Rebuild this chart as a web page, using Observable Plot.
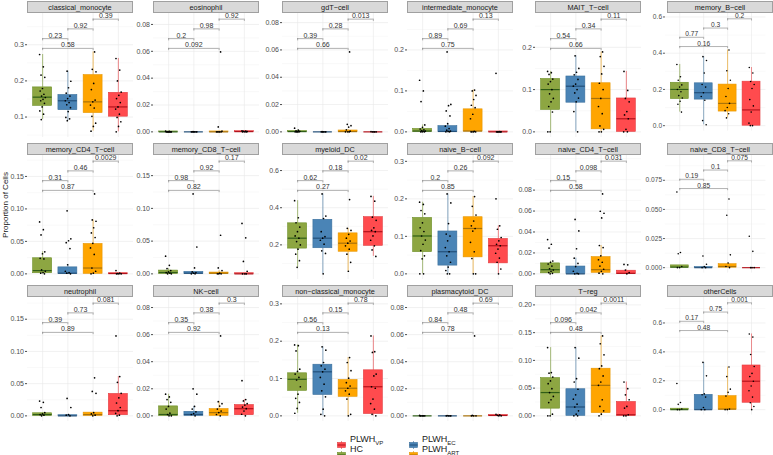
<!DOCTYPE html>
<html><head><meta charset="utf-8">
<script src="https://cdn.jsdelivr.net/npm/d3@7"></script>
<script src="https://cdn.jsdelivr.net/npm/@observablehq/plot@0.6"></script>
<style>
body{margin:0;background:#fff;font-family:"Liberation Sans",Arial,sans-serif;}
#root{position:relative;width:773px;height:455px;overflow:hidden;background:#fff;}
.strip{position:absolute;background:#d9d9d9;border:0.6px solid #a0a0a0;box-sizing:border-box;font-size:7.3px;color:#1a1a1a;text-align:center;z-index:3;white-space:nowrap;}
.panel{position:absolute;z-index:1;}
.ylab{position:absolute;left:5px;top:205px;transform:translate(-50%,-50%) rotate(-90deg);font-size:8px;color:#1a1a1a;white-space:nowrap;}
.leg{position:absolute;font-size:9px;color:#1a1a1a;white-space:nowrap;line-height:9px;}
.leg sub{font-size:6px;vertical-align:-3px;}
.key{position:absolute;}
</style>
</head><body><div id="root"></div>
<script>
const cells = ["classical_monocyte","eosinophil","gdT\u2212cell","intermediate_monocyte","MAIT_T\u2212cell","memory_B\u2212cell",
"memory_CD4_T\u2212cell","memory_CD8_T\u2212cell","myeloid_DC","naive_B\u2212cell","naive_CD4_T\u2212cell","naive_CD8_T\u2212cell",
"neutrophil","NK\u2212cell","non\u2212classical_monocyte","plasmacytoid_DC","T\u2212reg","otherCells"];
const groups = ["HC","PLWH_EC","PLWH_ART","PLWH_VP"];
const pHC_EC  = ["0.23","0.2","0.39","0.89","0.54","0.77","0.31","0.98","0.62","0.2","0.15","0.19","0.39","0.35","0.56","0.84","0.096","0.17"];
const pEC_ART = ["0.92","0.98","0.28","0.69","0.34","0.3","0.46","0.92","0.18","0.26","0.098","0.1","0.73","0.38","0.15","0.48","0.042","0.75"];
const pART_VP = ["0.39","0.92","0.013","0.13","0.11","0.2","0.0029","0.17","0.02","0.092","0.031","0.075","0.081","0.3","0.78","0.69","0.0011","0.001"];
const pHC_ART = ["0.58","0.092","0.66","0.75","0.66","0.16","0.87","0.82","0.27","0.85","0.58","0.85","0.89","0.92","0.13","0.78","0.48","0.48"];

// box stats per cell: [lower whisker, q1, median, q3, upper whisker]
const boxHC = [[0.093,0.131,0.155,0.182,0.273],[0,0,0,0.0003,0.0005],[0,0,0.0002,0.0006,0.0012],[0,0,0.002,0.007,0.017],[0,0.052,0.1,0.125,0.143],[0.075,0.147,0.2,0.237,0.338],
[0,0.001,0.005,0.024,0.034],[0,0,0.002,0.005,0.008],[0.079,0.18,0.236,0.316,0.438],[0,0.058,0.101,0.149,0.191],[0,0.0005,0.004,0.01,0.012],[0,0,0.0005,0.002,0.002],
[0,0,0.002,0.004,0.005],[0,0,0.001,0.007,0.016],[0.007,0.067,0.098,0.114,0.19],[0,0,0,0,0.0003],[0,0.013,0.042,0.068,0.123],[0,0,0,0.007,0.007]];
const boxEC = [[0.09,0.119,0.145,0.161,0.227],[0,0,0,0,0.0002],[0,0,0,0,0.0002],[0,0,0.001,0.014,0.02],[0,0.069,0.108,0.131,0.18],[0.005,0.144,0.182,0.234,0.381],
[0,0,0.001,0.01,0.014],[0,0,0.001,0.003,0.003],[0.044,0.182,0.236,0.335,0.474],[0,0.022,0.059,0.113,0.213],[0,0,0,0.007,0.015],[0,0,0,0.0005,0.001],
[0,0,0,0.001,0.002],[0,0,0.001,0.003,0.007],[0,0.056,0.118,0.137,0.185],[0,0,0,0,0],[0,0,0.016,0.048,0.123],[0,0,0,0.103,0.327]];
const boxART = [[0.061,0.111,0.142,0.216,0.28],[0,0,0,0.0003,0.0005],[0,0,0.0002,0.001,0.0015],[0,0.001,0.002,0.055,0.102],[0,0.006,0.079,0.115,0.189],[0.043,0.078,0.123,0.227,0.418],
[0,0,0.009,0.046,0.083],[0,0,0.001,0.002,0.005],[0.058,0.163,0.209,0.262,0.289],[0,0.044,0.121,0.151,0.206],[0,0.001,0.004,0.016,0.027],[0,0,0.001,0.003,0.004],
[0,0,0.002,0.005,0.005],[0,0,0.0024,0.005,0.0105],[0,0.051,0.074,0.096,0.156],[0,0,0,0,0.0003],[0,0.005,0.055,0.085,0.144],[0,0,0.004,0.094,0.295]];
const boxVP = [[0.059,0.101,0.128,0.167,0.262],[0,0,0.0002,0.0005,0.0008],[0,0,0,0,0],[0,0,0,0.001,0.001],[0,0,0.031,0.079,0.143],[0,0,0.087,0.243,0.321],
[0,0,0.0005,0.001,0.001],[0,0,0,0.001,0.001],[0.138,0.195,0.271,0.349,0.461],[0,0.028,0.075,0.093,0.128],[0,0,0.0005,0.003,0.0037],[0,0,0,0,0],
[0,0.001,0.008,0.034,0.061],[0,0.0005,0.0053,0.008,0.012],[0,0.005,0.078,0.122,0.214],[0,0,0.0003,0.0006,0.0012],[0,0,0.002,0.025,0.061],[0,0.048,0.197,0.306,0.524]];

// individual samples per cell
const ptsHC = [
[0.273,0.239,0.216,0.210,0.179,0.172,0.163,0.158,0.154,0.149,0.145,0.138,0.128,0.117,0.108,0.093],
[0.0005,0.0003,0,0,0,0,0,0,0,0],
[0.0027,0.0012,0.0008,0.0004,0,0,0,0],
[0.126,0.1,0.074,0.017,0.011,0.007,0.005,0.003,0.002,0.001,0,0,0],
[0.143,0.14,0.136,0.125,0.119,0.113,0.1,0.09,0.079,0.071,0.06,0.047,0,0],
[0.338,0.27,0.251,0.225,0.213,0.2,0.187,0.166,0.153,0.135,0.118,0.075],
[0.08,0.068,0.06,0.034,0.031,0.024,0.023,0.006,0.004,0.002,0.001,0],
[0.027,0.013,0.008,0.005,0.003,0.002,0.001,0,0],
[0.438,0.346,0.319,0.296,0.271,0.248,0.236,0.218,0.2,0.177,0.15,0.115,0.079],
[0.191,0.185,0.169,0.16,0.136,0.123,0.113,0.101,0.09,0.079,0.062,0.048,0.04,0,0],
[0.0327,0.0283,0.0246,0.0123,0.011,0.0094,0.0074,0.0049,0.0037,0.0025,0.0012,0.0005,0],
[0.065,0.013,0.012,0.001,0,0],
[0.023,0.021,0.013,0.005,0.003,0.002,0.001,0],
[0.016,0.014,0.012,0.01,0.007,0.005,0.002,0.001,0,0],
[0.19,0.188,0.174,0.125,0.119,0.112,0.103,0.096,0.078,0.058,0.047,0.036,0.02,0.007],
[0.0003,0,0,0,0,0],
[0.123,0.078,0.077,0.07,0.063,0.058,0.049,0.042,0.035,0.029,0.024,0.003,0,0],
[0.181,0.05,0.037,0.005,0,0]];
const ptsEC = [
[0.227,0.199,0.181,0.166,0.158,0.151,0.145,0.140,0.134,0.126,0.115,0.099,0.095,0.090],
[0.0002,0,0,0,0,0,0],
[0.0002,0,0,0,0,0],
[0.195,0.067,0.064,0.051,0.039,0.02,0.014,0.008,0.004,0.002,0.001,0,0],
[0.18,0.15,0.141,0.135,0.124,0.113,0.108,0.1,0.092,0.08,0.071,0.048,0],
[0.381,0.36,0.291,0.227,0.213,0.182,0.161,0.14,0.028,0.005],
[0.097,0.054,0.051,0.048,0.039,0.014,0.004,0.002,0.001,0],
[0.122,0.041,0.009,0.003,0.002,0.001,0,0],
[0.474,0.355,0.342,0.271,0.244,0.236,0.225,0.204,0.168,0.154,0.044],
[0.213,0.189,0.134,0.106,0.101,0.088,0.07,0.059,0.048,0.031,0.018,0.009,0,0],
[0.052,0.041,0.024,0.015,0.01,0.007,0.0025,0.0005,0,0],
[0.01,0.003,0.001,0,0],
[0.027,0.013,0.002,0.001,0],
[0.02,0.016,0.007,0.005,0.003,0.0017,0.001,0],
[0.185,0.176,0.143,0.134,0.125,0.118,0.103,0.085,0.067,0.051,0.018,0.004,0],
[0.0002,0,0,0,0],
[0.123,0.104,0.067,0.061,0.048,0.038,0.03,0.021,0.016,0.009,0.003,0,0],
[0.327,0.234,0.109,0.103,0.087,0.015,0,0]];
const ptsART = [
[0.28,0.232,0.225,0.193,0.176,0.147,0.142,0.133,0.125,0.102,0.083,0.074,0.061],
[0.0595,0.0037,0.0005,0,0,0,0,0],
[0.0585,0.0055,0.0045,0.0035,0.0015,0.0005,0,0,0],
[0.102,0.1,0.089,0.079,0.065,0.059,0.043,0.032,0.001,0,0,0,0],
[0.189,0.178,0.155,0.137,0.115,0.1,0.079,0.06,0.043,0.014,0.006,0,0],
[0.418,0.303,0.251,0.205,0.161,0.123,0.1,0.083,0.066,0.043],
[0.123,0.083,0.081,0.071,0.063,0.056,0.047,0.04,0.03,0.009,0.004,0.001,0],
[0.059,0.009,0.005,0.001,0,0,0],
[0.444,0.289,0.278,0.257,0.236,0.221,0.209,0.195,0.177,0.15,0.106,0.058],
[0.206,0.18,0.157,0.141,0.128,0.121,0.114,0.084,0.059,0.041,0,0],
[0.0763,0.0598,0.0579,0.0534,0.0271,0.0251,0.0172,0.0135,0.0111,0.0074,0.0044,0.0025,0.0007,0],
[0.059,0.045,0.011,0.004,0.001,0],
[0.059,0.038,0.035,0.005,0.003,0.001,0],
[0.059,0.0105,0.009,0.0072,0.005,0.0036,0.0024,0.001,0],
[0.156,0.143,0.121,0.101,0.089,0.08,0.074,0.067,0.058,0.045,0.004,0],
[0.059,0.0003,0,0,0],
[0.144,0.13,0.11,0.09,0.085,0.072,0.061,0.055,0.029,0.017,0.009,0.003,0],
[0.295,0.229,0.142,0.12,0.094,0.004,0,0]];
const ptsVP = [
[0.262,0.23,0.2,0.169,0.16,0.151,0.14,0.128,0.122,0.108,0.099,0.087,0.074,0.059],
[0.0008,0.0006,0.0004,0.0002,0,0,0],
[0.0002,0,0,0,0],
[0.143,0.0005,0,0,0,0,0,0],
[0.143,0.098,0.079,0.071,0.048,0.04,0.031,0.006,0,0],
[0.321,0.291,0.244,0.227,0.205,0.144,0.109,0.075,0.014,0,0],
[0.005,0.001,0.0005,0,0,0],
[0.077,0.055,0.019,0.004,0,0,0],
[0.461,0.435,0.349,0.332,0.292,0.278,0.271,0.248,0.225,0.195,0.173,0.138],
[0.2,0.128,0.119,0.097,0.088,0.079,0.075,0.066,0.055,0.042,0.031,0.013,0],
[0.009,0.0086,0.0037,0.0012,0],
[0.027,0.014,0,0,0],
[0.124,0.061,0.052,0.035,0.028,0.02,0.013,0.008,0.004,0.001,0],
[0.026,0.012,0.011,0.009,0.008,0.0065,0.0053,0.0036,0.0012,0],
[0.214,0.172,0.17,0.112,0.107,0.078,0.074,0.045,0.033,0.018,0.004,0],
[0.0012,0.0008,0.0004,0,0],
[0.061,0.049,0.038,0.029,0.017,0.014,0.002,0,0],
[0.524,0.502,0.382,0.299,0.251,0.229,0.197,0.164,0.131,0.087,0.048,0.022,0]];

const yTicks = [[0.1,0.2,0.3],[0,0.02,0.04,0.06,0.08],[0,0.02,0.04,0.06,0.08],[0,0.1,0.2],[0,0.1,0.2],[0,0.2,0.4,0.6],
[0,0.05,0.10,0.15],[0,0.05,0.10,0.15],[0.2,0.4,0.6],[0,0.1,0.2,0.3],[0,0.02,0.04,0.06,0.08],[0,0.025,0.05,0.075],
[0,0.05,0.10,0.15],[0,0.02,0.04,0.06,0.08],[0,0.1,0.2,0.3],[0,0.02,0.04,0.06,0.08],[0,0.05,0.10,0.15,0.20],[0,0.2,0.4,0.6]];

const fillC   = ["#8da642","#4a84b6","#ffa500","#ff4b4e"];
const strokeC = ["#6b8e23","#3a6f9c","#e69500","#e23b3e"];
const medC    = ["#2f5e16","#23507a","#a8720a","#b3121c"];

const root = document.getElementById("root");
const colLeft = [27,153,282,407,535,667], panelW = 106;
const stripTop = [1,143,285], stripH = 12, plotH = 124, mL = 40, mR = 8;

const boxes = [boxHC, boxEC, boxART, boxVP];
const pts = [ptsHC, ptsEC, ptsART, ptsVP];

cells.forEach((name, i) => {
  const r = Math.floor(i / 6), c = i % 6;
  const rows = [];
  pts.forEach((arr, gi) => arr[i].forEach((v, j) => rows.push({x: gi + 1 + (((j * 0.618034 + gi * 0.37) % 1) - 0.5) * 0.24, v})));
  const bx = boxes.map((arr, gi) => {const [lo,q1,med,q3,hi] = arr[i]; return {x: gi + 1, lo, q1, med, q3, hi, gi};});
  const M = d3.max(rows, d => d.v), m = d3.min(rows, d => d.v), rng = M - m;
  const lev = [0,1,2,3].map(k => M + rng * (0.045 + 0.122 * k));
  const br = [
    {a:1, b:3, y:lev[0], p:pHC_ART[i]},
    {a:1, b:2, y:lev[1], p:pHC_EC[i]},
    {a:2, b:3, y:lev[2], p:pEC_ART[i]},
    {a:3, b:4, y:lev[3], p:pART_VP[i]}];
  const span = lev[3] - m;
  const domain = [m - 0.05 * span, lev[3] + 0.05 * span];
  const tip = span * 0.02;
  const ticks = yTicks[i];
  const dec = d3.max(ticks, t => { const s = String(t); return s.includes(".") ? s.split(".")[1].length : 0; });
  const step = ticks[1] - ticks[0];
  const minor = [];
  for (let t = ticks[0] - step / 2; t <= domain[1]; t += step) if (t >= domain[0]) minor.push(t);

  const chart = Plot.plot({
    width: mL + panelW + mR, height: plotH,
    marginLeft: mL, marginRight: mR, marginTop: 0, marginBottom: 0,
    style: {background: "transparent", overflow: "visible", fontFamily: "Liberation Sans, Arial, sans-serif"},
    x: {domain: [0.4, 4.6], axis: null},
    y: {domain},
    marks: [
      Plot.ruleY(minor, {stroke: "#f3f3f3", strokeWidth: 0.5}),
      Plot.ruleY(ticks, {stroke: "#e8e8e8", strokeWidth: 0.6}),
      Plot.ruleX([1,2,3,4], {stroke: "#e8e8e8", strokeWidth: 0.6}),
      Plot.axisY(ticks, {tickFormat: d3.format(`.${dec}f`), tickSize: 2, tickPadding: 1.5, fontSize: 7, color: "#4d4d4d", label: null}),
      Plot.ruleX(bx, {x: "x", y1: "lo", y2: "q1", stroke: d => strokeC[d.gi], strokeWidth: 0.6}),
      Plot.ruleX(bx, {x: "x", y1: "q3", y2: "hi", stroke: d => strokeC[d.gi], strokeWidth: 0.6}),
      Plot.rect(bx.filter(d => d.q3 > d.q1), {x1: d => d.x - 0.375, x2: d => d.x + 0.375, y1: "q1", y2: "q3", fill: d => fillC[d.gi], stroke: d => strokeC[d.gi], strokeWidth: 0.6}),
      Plot.ruleY(bx, {y: "med", x1: d => d.x - 0.375, x2: d => d.x + 0.375, stroke: d => medC[d.gi], strokeWidth: 1.2}),
      Plot.dot(rows, {x: "x", y: "v", r: 0.85, fill: "#000", stroke: null}),
      Plot.ruleY(br, {y: "y", x1: "a", x2: "b", stroke: "#7a7a7a", strokeWidth: 0.6}),
      Plot.ruleX(br, {x: "a", y1: d => d.y - tip, y2: "y", stroke: "#7a7a7a", strokeWidth: 0.6}),
      Plot.ruleX(br, {x: "b", y1: d => d.y - tip, y2: "y", stroke: "#7a7a7a", strokeWidth: 0.6}),
      Plot.text(br, {x: d => (d.a + d.b) / 2, y: "y", text: "p", lineAnchor: "bottom", dy: -1, fontSize: 7, fill: "#333"})
    ]
  });
  const wrap = document.createElement("div");
  wrap.className = "panel";
  wrap.style.left = (colLeft[c] - mL) + "px";
  wrap.style.top = (stripTop[r] + stripH) + "px";
  wrap.appendChild(chart);
  root.appendChild(wrap);

  const s = document.createElement("div");
  s.className = "strip";
  s.style.left = colLeft[c] + "px";
  s.style.top = stripTop[r] + "px";
  s.style.width = panelW + "px";
  s.style.height = stripH + "px";
  s.style.lineHeight = (stripH - 1) + "px";
  s.textContent = name;
  root.appendChild(s);
});

const yl = document.createElement("div");
yl.className = "ylab";
yl.textContent = "Proportion of Cells";
root.appendChild(yl);

// legend
const legendItems = [
  {gi: 3, left: 337, top: 435, html: "PLWH<sub>VP</sub>"},
  {gi: 1, left: 409, top: 435, html: "PLWH<sub>EC</sub>"},
  {gi: 0, left: 337, top: 445, html: "HC"},
  {gi: 2, left: 409, top: 445, html: "PLWH<sub>ART</sub>"}];
legendItems.forEach(it => {
  const k = document.createElement("div");
  k.className = "key";
  k.style.left = it.left + "px"; k.style.top = it.top + "px";
  k.innerHTML = `<svg width="9" height="8"><line x1="4.5" x2="4.5" y1="0" y2="8" stroke="${strokeC[it.gi]}" stroke-width="0.6"/><rect x="0.5" y="1.5" width="8" height="5" fill="${fillC[it.gi]}" stroke="${strokeC[it.gi]}" stroke-width="0.6"/><line x1="0.5" x2="8.5" y1="4" y2="4" stroke="${medC[it.gi]}" stroke-width="1"/></svg>`;
  root.appendChild(k);
  const t = document.createElement("div");
  t.className = "leg";
  t.style.left = (it.left + 13) + "px"; t.style.top = (it.top - 0.5) + "px";
  t.innerHTML = it.html;
  root.appendChild(t);
});
</script>
</body></html>
